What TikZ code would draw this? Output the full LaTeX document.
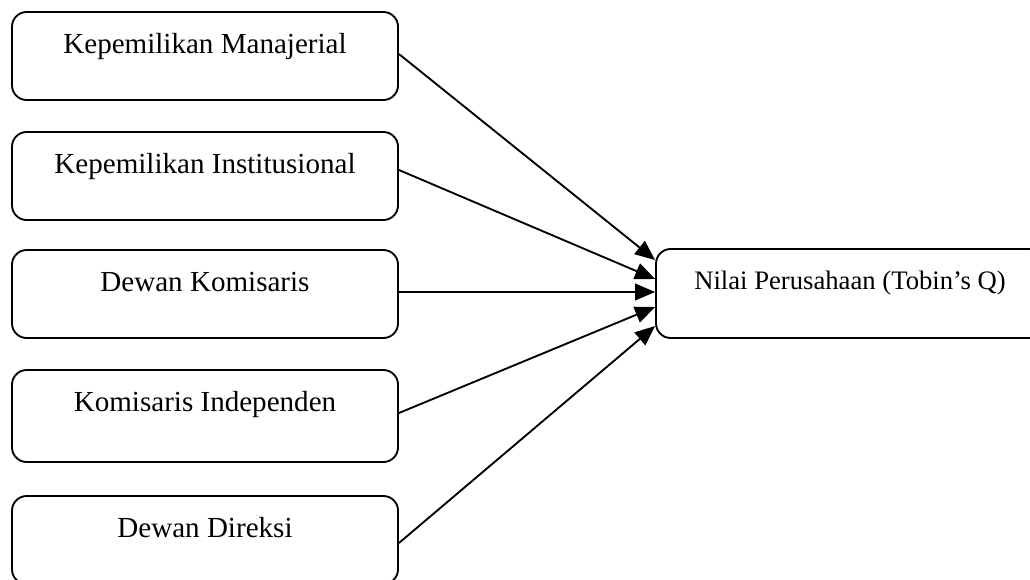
\documentclass[tikz,border=0pt]{standalone}
\usepackage{fontspec}
\setmainfont{Liberation Serif}
\usetikzlibrary{arrows.meta,calc}
\begin{document}
\begin{tikzpicture}[x=0.75pt,y=-0.75pt,
  box/.style={draw=black, line width=1.4pt, rounded corners=11pt, minimum width=386*0.75pt, inner sep=0pt},
  lbl/.style={anchor=base, inner sep=0pt, font=\fontsize{21.8pt}{26pt}\selectfont},
  rlbl/.style={anchor=base, inner sep=0pt, font=\fontsize{20pt}{24pt}\selectfont},
  conn/.style={line width=1.4pt, -{Triangle[length=15pt,width=12.5pt]}}]
\useasboundingbox (0,0) rectangle (1030,579);
% left boxes
\node[box, minimum height=88*0.75pt] (b1) at (205,56) {};
\node[box, minimum height=88*0.75pt] (b2) at (205,176) {};
\node[box, minimum height=88*0.75pt] (b3) at (205,294) {};
\node[box, minimum height=92*0.75pt] (b4) at (205,416) {};
\node[box, minimum height=88*0.75pt] (b5) at (205,540) {};
\node[lbl] (t1) at ($(b1.north)+(0,42)$) {Kepemilikan Manajerial};
\node[lbl] (t2) at ($(b2.north)+(0,42)$) {Kepemilikan Institusional};
\node[lbl] (t3) at ($(b3.north)+(0,42)$) {Dewan Komisaris};
\node[lbl] (t4) at ($(b4.north)+(0,42)$) {Komisaris Independen};
\node[lbl] (t5) at ($(b5.north)+(0,42)$) {Dewan Direksi};
% right box
\node[box, minimum width=388*0.75pt, minimum height=89*0.75pt] (r) at (850,293.5) {};
\node[rlbl] (tr) at ($(r.north)+(0,41)$) {Nilai Perusahaan (Tobin’s Q)};
% connectors
\coordinate (e1) at ($(r.west)+(0,-33.5)$);
\coordinate (e2) at ($(r.west)+(0,-14.5)$);
\coordinate (e3) at ($(r.west)+(0,-1.5)$);
\coordinate (e4) at ($(r.west)+(0,13.5)$);
\coordinate (e5) at ($(r.west)+(0,32.5)$);
\draw[conn] ($(b1.east)+(0,-2)$) -- (e1);
\draw[conn] ($(b2.east)+(0,-6)$) -- (e2);
\draw[conn] ($(b3.east)+(0,-2)$) -- (e3);
\draw[conn] ($(b4.east)+(0,-3)$) -- (e4);
\draw[conn] ($(b5.east)+(0,3)$) -- (e5);
\end{tikzpicture}
\end{document}
